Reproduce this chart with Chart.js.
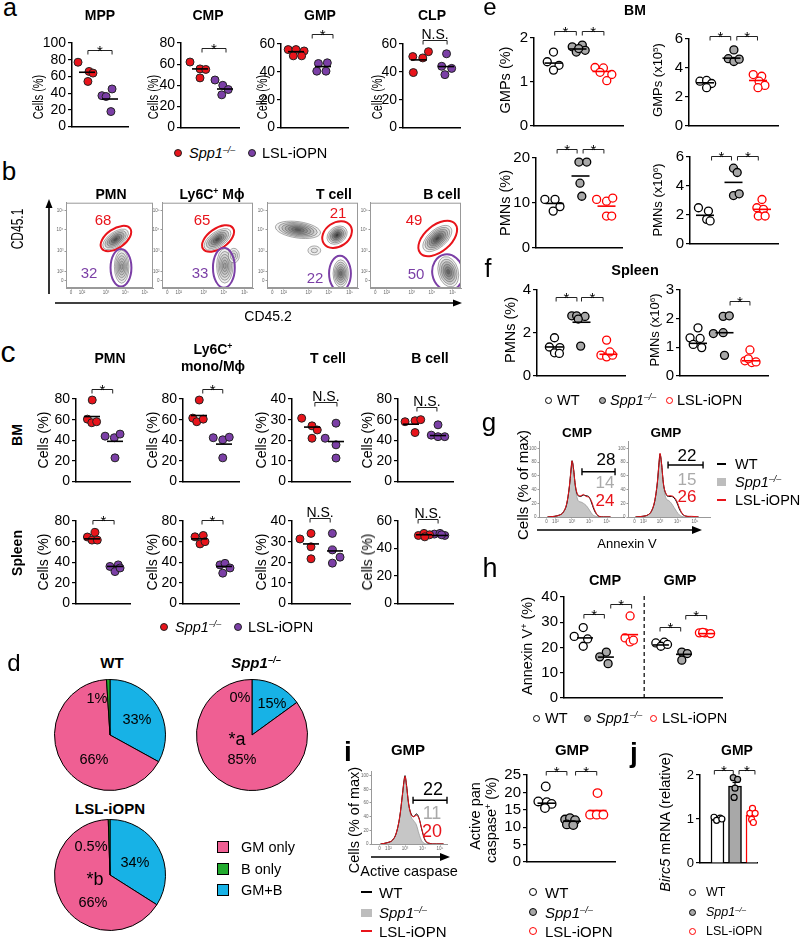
<!DOCTYPE html>
<html>
<head>
<meta charset="utf-8">
<script src="https://cdn.jsdelivr.net/npm/chart.js@4.4.1/dist/chart.umd.min.js"></script>
<style>
html, body { margin: 0; padding: 0; background: #fff; }
#fig { position: relative; width: 800px; height: 938px; overflow: hidden; font-family: 'Liberation Sans', Arial, 'DejaVu Sans', sans-serif; color: #000; }
#fig canvas { position: absolute; }
.t { position: absolute; white-space: nowrap; line-height: 1; }
.m { position: absolute; box-sizing: border-box; }
sup { font-size: .62em; vertical-align: 0; position: relative; top: -.55em; line-height: 0; }
</style>
</head>
<body>
<div id="fig"></div>
<script>
// ---------- data ----------
// panel a: % of donor cells, Spp1-/- (red) vs LSL-iOPN (purple)
const mppSpp = [77, 66, 64, 54], mppLsl = [45, 37, 36, 18], mppMed = [65, 33];
const cmpSpp = [62, 55.5, 55, 47], cmpLsl = [45, 40, 36, 31], cmpMed = [55.5, 36.5];
const gmpSpp = [56, 56, 55, 51.5, 51.5], gmpLsl = [46, 46.5, 40.5, 40.5], gmpMed = [54.5, 43.8];
const clpSpp = [51, 50, 54.5, 39.5], clpLsl = [53, 44, 42.5, 38], clpMed = [48.6, 43.8];

// panel c: BM and spleen
const pmnBmSpp = [79, 60.5, 57, 58], pmnBmLsl = [44, 42.5, 46, 23], pmnBmMed = [63, 39];
const monoBmSpp = [79, 61.5, 58, 60.5], monoBmLsl = [42.5, 40.5, 43, 23], monoBmMed = [64, 36.3];
const tBmSpp = [30.7, 27, 25, 21], tBmLsl = [21, 28.3, 17.8, 11.4], tBmMed = [26.4, 19.4];
const bBmSpp = [58, 59, 60, 47.5], bBmLsl = [55, 45, 43.5, 43.5], bBmMed = [55.6, 44.6];
const pmnSpSpp = [64.5, 69, 61.5, 61.5], pmnSpLsl = [36, 37.5, 31, 34.5], pmnSpMed = [62.7, 36];
const monoSpSpp = [64.7, 66, 57.8, 60], monoSpLsl = [37.5, 39, 29.5, 34.5], monoSpMed = [62.7, 36];
const tSpSpp = [31.3, 34, 27.5, 21.7], tSpLsl = [34, 26, 22.5, 19.6], tSpMed = [28.9, 25.5];
const bSpSpp = [49.5, 51, 50, 48.5], bSpLsl = [50.5, 51, 49.5, 50], bSpMed = [50, 49.5];

// panel d: colony types (%), order WT, Spp1-/-, LSL-iOPN
const pieCats = ['GM+B', 'GM only', 'B only'];
const gmB = [33, 15, 34];
const gmOnly = [66, 85, 65.5];
const bOnly = [1, 0, 0.5];

// panel e (BM) and f (spleen): WT, Spp1-/-, LSL-iOPN
const gmpPctWT = [1.68, 1.46, 1.38, 1.27], gmpPctKO = [1.8, 1.84, 1.68, 1.72, 1.76], gmpPctOE = [1.33, 1.32, 1.22, 1.17, 1.03], gmpPctMed = [1.43, 1.75, 1.24];
const gmpNumWT = [3.09, 3.14, 2.93, 2.64], gmpNumKO = [5.25, 4.64, 4.45, 4.61], gmpNumOE = [3.55, 3.43, 3.09, 2.8, 2.64], gmpNumMed = [2.98, 4.68, 3.14];
const pmnPctWT = [10.8, 10.8, 9.2, 8.2], pmnPctKO = [19.1, 19.1, 14.4, 11.5], pmnPctOE = [10.8, 10.4, 11.1, 7.1, 7.1], pmnPctMed = [9.9, 16, 9.3];
const pmnNumWT = [2.5, 2.27, 1.7, 1.59], pmnNumKO = [5.23, 4.93, 3.34, 3.46], pmnNumOE = [3.07, 2.5, 2.39, 1.93, 1.93], pmnNumMed = [1.98, 4.25, 2.39];
const spPctWT = [1.78, 1.35, 1.32, 1.08, 1.05], spPctKO = [2.8, 2.8, 2.77, 2.65, 1.39], spPctOE = [1.67, 0.97, 0.89, 0.97, 1.12], spPctMed = [1.35, 2.5, 1.01];
const spNumWT = [1.68, 1.33, 1.31, 1.1, 0.99], spNumKO = [1.48, 2.08, 2.1, 1.51, 0.72], spNumOE = [0.91, 0.53, 0.47, 0.49, 0.6], spNumMed = [1.14, 1.51, 0.53];

// panel g / i: histograms, x in log decades, y in % of max
const histX = [1.6, 2.0, 2.3, 2.5, 2.7, 2.85, 2.95, 3.0, 3.08, 3.2, 3.35, 3.5, 3.65, 3.8, 3.95, 4.1, 4.25, 4.4, 4.55, 4.8, 5.2];
const cmpHistKO = [0, 1, 3, 7, 20, 45, 72, 83, 72, 42, 24, 22, 20, 17, 12, 6, 2, 1, 0, 0, 0];
const cmpHistWT = [0, 1, 3, 7, 19, 44, 70, 82, 72, 44, 31, 30, 32, 31, 30, 22, 11, 4, 1, 0, 0];
const cmpHistOE = [0, 1, 3, 7, 20, 45, 71, 82, 71, 45, 32, 31, 33, 30, 29, 24, 13, 5, 1, 0, 0];
const gmpHistKO = [0, 1, 3, 8, 24, 52, 82, 93, 80, 46, 27, 24, 20, 14, 8, 3, 1, 0, 0, 0, 0];
const gmpHistWT = [0, 1, 3, 8, 23, 50, 80, 92, 80, 48, 33, 30, 30, 28, 22, 12, 5, 2, 1, 0, 0];
const gmpHistOE = [0, 1, 3, 8, 24, 51, 81, 93, 80, 48, 34, 31, 31, 29, 24, 14, 6, 2, 1, 1, 0];
const caspHistKO = [0, 2, 6, 15, 38, 68, 90, 95, 85, 58, 40, 34, 28, 15, 5, 1, 0, 0, 0, 0, 0];
const caspHistWT = [0, 2, 6, 16, 40, 72, 94, 100, 88, 60, 44, 40, 44, 38, 22, 8, 2, 1, 0, 0, 0];
const caspHistOE = [0, 2, 6, 16, 40, 71, 93, 99, 87, 60, 43, 40, 42, 37, 23, 9, 3, 1, 0, 0, 0];
const decTicks = [1.55, 2.05, 3, 4, 5];
const decLabels = ['0', '10²', '10³', '10⁴', '10⁵'];
const cmpGate = [3.57, 5.46, 66], gmpGate = [3.46, 5.46, 76], caspGate = [3.46, 5.4, 64];

// panel h: Annexin V+ (%)
const anxCmpWT = [24.4, 27.9, 20.5, 23.4], anxCmpKO = [18.2, 16.3, 13.6], anxCmpOE = [32.5, 23.8, 22.2, 22.9];
const anxGmpWT = [21.8, 22.1, 20.5, 21.2], anxGmpKO = [18.2, 17.6, 15], anxGmpOE = [25.8, 25.8, 25.5, 26];
const anxMed = [23.8, 16.2, 25.1, 21, 17.3, 25.5];

// panel i: active pan caspase+ (%)
const caspWT = [21.7, 17.4, 17.2, 16.7, 15.5], caspKO = [12.2, 12.6, 12.0, 10.8, 10.6], caspOE = [19.8, 13.6, 13.6, 13.6];
const caspMed = [16.9, 11.7, 14.8];

// panel j: Birc5 mRNA (relative)
const birc5Mean = [1.0, 1.75, 1.09], birc5Sem = [0.02, 0.08, 0.05];
const birc5WT = [1.04, 1.02, 0.97, 1.0], birc5KO = [1.94, 1.9, 1.7, 1.49], birc5OE = [1.24, 1.13, 1.13, 0.99, 0.92];

// flow plot tick positions (panel b), axes in decades 0..5
const flowYT = [0.45, 0.97, 2.16, 3.41, 4.55], flowXT = [0.29, 0.92, 2.3, 3.4, 4.54];

// ---------- helpers ----------
const fig = document.getElementById('fig');
const RED = '#E8141B', PUR = '#7B3FA6', GRAY = '#A8A8A8';
const PINK = '#EF5F93', BLUE = '#17B2E6', GREEN = '#22AA2E';
const STY = {
  spp: { fill: RED, stroke: '#222', line: '#000' },
  lsl: { fill: PUR, stroke: '#222', line: '#000' },
  wt: { fill: '#fff', stroke: '#000', line: '#000', bar: '#fff' },
  ko: { fill: GRAY, stroke: '#000', line: '#000', bar: GRAY },
  oe: { fill: '#fff', stroke: '#F00', line: '#F00', bar: '#fff' }
};

function base() {
  return { responsive: false, animation: false, events: [], plugins: { legend: { display: false }, tooltip: { enabled: false } } };
}

function mk(x, y, w, h) {
  const c = document.createElement('canvas');
  c.width = w; c.height = h;
  c.style.left = x + 'px'; c.style.top = y + 'px';
  c.style.width = w + 'px'; c.style.height = h + 'px';
  fig.appendChild(c);
  return c;
}

function txt(x, y, html, o = {}) {
  const d = document.createElement('div');
  d.className = 't';
  d.innerHTML = html;
  let tf = o.left ? 'translate(0,-50%)' : 'translate(-50%,-50%)';
  if (o.rot) tf += ' rotate(-90deg)';
  if (o.sx) tf += ' scaleX(' + o.sx + ')';
  d.style.left = x + 'px'; d.style.top = y + 'px';
  d.style.fontSize = (o.fs || 14) + 'px';
  if (o.b) d.style.fontWeight = 'bold';
  if (o.i) d.style.fontStyle = 'italic';
  if (o.c) d.style.color = o.c;
  d.style.transform = tf;
  fig.appendChild(d);
}

function mark(x, y, w, h, fill, stroke, bw, round) {
  const d = document.createElement('div');
  d.className = 'm';
  d.style.cssText = `left:${x - w / 2}px;top:${y - h / 2}px;width:${w}px;height:${h}px;background:${fill};` +
    (stroke ? `border:${bw}px solid ${stroke};` : '') + (round ? 'border-radius:50%;' : '');
  fig.appendChild(d);
}

// significance brackets drawn on top of the plot
const brkPlugin = {
  id: 'brk',
  afterDatasetsDraw(chart, args, opts) {
    const { ctx, scales: { x, y } } = chart;
    ctx.save();
    ctx.strokeStyle = '#222';
    ctx.lineWidth = 1;
    ctx.fillStyle = '#000';
    ctx.textAlign = 'center';
    (opts.items || []).forEach(([a, b, v, t]) => {
      const x1 = x.getPixelForValue(a), x2 = x.getPixelForValue(b), yy = Math.round(y.getPixelForValue(v)) + 0.5;
      ctx.beginPath();
      ctx.moveTo(x1, yy + 4); ctx.lineTo(x1, yy); ctx.lineTo(x2, yy); ctx.lineTo(x2, yy + 4);
      ctx.stroke();
      ctx.textBaseline = 'alphabetic';
      if (t) {
        ctx.font = (opts.ns || 14) + "px 'Liberation Sans', Arial";
        ctx.fillText(t, (x1 + x2) / 2, yy - 2);
      } else {
        ctx.font = (opts.fs || 15) + "px 'Liberation Sans', Arial";
        ctx.fillText('*', (x1 + x2) / 2, yy + 5);
      }
    });
    ctx.restore();
  }
};

function dotPlot(L, P) {
  const padL = 42, padT = 34, padR = 8, padB = 10;
  const left = L.ax - padL, top = L.top - padT;
  const cv = mk(left, top, L.xEnd - left + padR, L.y0 - top + padB);
  const pos = P.pos || P.groups.map((g, i) => i + 1);
  const xmin = pos[0] - (L.c1 - L.ax) / L.ppu;
  const xmax = xmin + (L.xEnd - L.ax) / L.ppu;
  const half = (P.half || 8) / L.ppu;
  const ds = [];
  P.groups.forEach((g, i) => {
    const [vals, jit, mid, key] = g;
    const s = STY[key];
    if (P.bars) {
      const m = P.bars[i], e = P.err[i], cap = 0.14;
      ds.push({ type: 'bar', data: [{ x: pos[i], y: m }], backgroundColor: s.bar, borderColor: s.line, borderWidth: 1.5, barThickness: 13, grouped: false, order: 3 });
      ds.push({ data: [{ x: pos[i], y: m }, { x: pos[i], y: m + e }], showLine: true, pointRadius: 0, borderColor: s.line, borderWidth: 1.2, order: 2 });
      ds.push({ data: [{ x: pos[i] - cap, y: m + e }, { x: pos[i] + cap, y: m + e }], showLine: true, pointRadius: 0, borderColor: s.line, borderWidth: 1.2, order: 2 });
    }
    if (mid != null) {
      ds.push({ data: [{ x: pos[i] - half, y: mid }, { x: pos[i] + half, y: mid }], showLine: true, pointRadius: 0, borderColor: s.line, borderWidth: 1.6, clip: false, order: 0 });
    }
    ds.push({ data: vals.map((v, k) => ({ x: pos[i] + jit[k], y: v })), pointRadius: P.r || 4, pointBackgroundColor: s.fill, pointBorderColor: s.stroke, pointBorderWidth: P.bw || 1, clip: false, order: 1 });
  });
  (P.extra || []).forEach(d => ds.push(d));
  const o = base();
  o.layout = { padding: { left: 0, top: padT, right: padR, bottom: 0 } };
  o.scales = {
    x: { type: 'linear', min: xmin, max: xmax, offset: false, grid: { display: false, offset: false }, ticks: { display: false },
      border: { display: true, color: '#000', width: 1.5 }, afterFit: s => { s.height = padB; } },
    y: { type: 'linear', min: 0, max: P.max,
      ticks: { stepSize: P.step, autoSkip: false, font: { size: P.fs || 14 }, color: '#000', padding: 2 },
      grid: { drawOnChartArea: false, drawTicks: true, tickLength: 4, color: '#000', lineWidth: 1.2 },
      border: { display: true, color: '#000', width: 1.5 }, afterFit: s => { s.width = padL; } }
  };
  o.plugins.brk = { items: P.brk || [], fs: P.sfs || 15, ns: P.nfs || 14 };
  new Chart(cv, { type: 'scatter', data: { datasets: ds }, options: o, plugins: [brkPlugin] });
}

// contour populations and gates for the flow plots
const flowPlugin = {
  id: 'flow',
  beforeDatasetsDraw(chart, args, o) {
    const { ctx, chartArea: ca, scales: { x, y } } = chart;
    const k = x.getPixelForValue(1) - x.getPixelForValue(0);
    ctx.save();
    ctx.beginPath(); ctx.rect(ca.left, ca.top, ca.width, ca.height); ctx.clip();
    (o.pops || []).forEach(([cx, cy, rx, ry, a, n, dark]) => {
      for (let i = 0; i < n; i++) {
        const f = 1 - i / n;
        const g = Math.round(238 - (238 - dark) * i / Math.max(n - 1, 1));
        ctx.beginPath();
        ctx.ellipse(x.getPixelForValue(cx), y.getPixelForValue(cy), rx * k * f, ry * k * f, -a * Math.PI / 180, 0, 2 * Math.PI);
        ctx.fillStyle = `rgb(${g},${g},${g})`;
        ctx.fill();
        ctx.strokeStyle = '#5a5a5a'; ctx.lineWidth = 0.5; ctx.stroke();
      }
    });
    (o.gates || []).forEach(([cx, cy, rx, ry, a, col]) => {
      ctx.beginPath();
      ctx.ellipse(x.getPixelForValue(cx), y.getPixelForValue(cy), rx * k, ry * k, -a * Math.PI / 180, 0, 2 * Math.PI);
      ctx.strokeStyle = col; ctx.lineWidth = 2; ctx.stroke();
    });
    ctx.restore();
    ctx.save();
    ctx.strokeStyle = '#999'; ctx.lineWidth = 1;
    ctx.strokeRect(ca.left + 0.5, ca.top + 0.5, ca.width - 1, ca.height - 1);
    ctx.restore();
  }
};

function tinyAxis(min, max, vals, labels, after) {
  return { type: 'linear', min, max,
    afterBuildTicks: s => { s.ticks = vals.map(v => ({ value: v })); },
    ticks: { autoSkip: false, maxRotation: 0, callback: (v, i) => labels[i], font: { size: 4.5 }, color: '#666', padding: 1 },
    grid: { drawOnChartArea: false, tickLength: 1.5, color: '#999' },
    border: { display: true, color: '#999', width: 1 }, afterFit: after };
}

function flow(B, F) {
  const padL = 13, padB = 10;
  const cv = mk(B.l - padL, B.t - 1, B.r - B.l + padL + 2, B.b - B.t + 1 + padB);
  const o = base();
  o.layout = { padding: { left: 0, top: 1, right: 2, bottom: 0 } };
  o.scales = {
    x: tinyAxis(0, 5, flowXT, decLabels, s => { s.height = padB; }),
    y: tinyAxis(0, 5, flowYT, decLabels, s => { s.width = padL; })
  };
  o.plugins.flow = F;
  new Chart(cv, { type: 'scatter', data: { datasets: [] }, options: o, plugins: [flowPlugin] });
}

// gate marker on histograms
const gatePlugin = {
  id: 'gate',
  afterDatasetsDraw(chart, args, o) {
    if (!o.g) return;
    const { ctx, scales: { x, y } } = chart;
    const [a, b, v] = o.g;
    const x1 = x.getPixelForValue(a), x2 = x.getPixelForValue(b), yy = y.getPixelForValue(v);
    ctx.save();
    ctx.strokeStyle = '#000'; ctx.lineWidth = 1.4;
    ctx.beginPath();
    ctx.moveTo(x1, yy); ctx.lineTo(x2, yy);
    ctx.moveTo(x1, yy - 3.5); ctx.lineTo(x1, yy + 3.5);
    ctx.moveTo(x2, yy - 3.5); ctx.lineTo(x2, yy + 3.5);
    ctx.stroke();
    ctx.restore();
  }
};

function histo(L, series, gate) {
  const padL = 10, padB = 9, padT = 2, padR = 4;
  const cv = mk(L.l - padL, L.t - padT, L.r - L.l + padL + padR, L.b - L.t + padT + padB);
  const xmin = 3 - (L.x3 - L.l) / 17.5, xmax = xmin + (L.r - L.l) / 17.5;
  const ds = series.map(([ys, col, fill], k) => ({
    data: histX.map((x, i) => ({ x, y: ys[i] })), showLine: true, pointRadius: 0,
    borderColor: col, borderWidth: fill ? 0.8 : 1, backgroundColor: fill || 'transparent',
    fill: fill ? 'origin' : false, cubicInterpolationMode: 'monotone', order: 5 - k }));
  const o = base();
  o.layout = { padding: { left: 0, top: padT, right: padR, bottom: 0 } };
  o.scales = {
    x: tinyAxis(xmin, xmax, decTicks, decLabels, s => { s.height = padB; }),
    y: tinyAxis(0, L.ymax, [0, 20, 40, 60, 80, 100], ['0', '20', '40', '60', '80', '100'], s => { s.width = padL; })
  };
  o.plugins.gate = { g: gate };
  new Chart(cv, { type: 'scatter', data: { datasets: ds }, options: o, plugins: [gatePlugin] });
}

function pie(cx, cy, r, k) {
  const cv = mk(cx - r - 1, cy - r - 1, 2 * r + 2, 2 * r + 2);
  const o = base();
  o.layout = { padding: 0 };
  new Chart(cv, { type: 'pie', data: { labels: pieCats, datasets: [{ data: [gmB[k], gmOnly[k], bOnly[k]], backgroundColor: [BLUE, PINK, GREEN], borderColor: '#000', borderWidth: 1 }] }, options: o });
}

// ---------- panel a ----------
const spp = '<i>Spp1<sup>–/–</sup></i>';
[
  [{ ax: 72, top: 43, y0: 127, xEnd: 128, c1: 87, ppu: 23 }, 100, mppSpp, [-0.39, 0.09, 0.26, 0.04], mppLsl, [0.09, -0.35, -0.17, 0.04], mppMed, [1.04, 2.09, 92]],
  [{ ax: 181, top: 43, y0: 128, xEnd: 239, c1: 200, ppu: 25 }, 80, cmpSpp, [-0.4, 0, 0.23, 0], cmpLsl, [-0.4, -0.09, 0.13, -0.13], cmpMed, [1.08, 2.04, 75.5]],
  [{ ax: 281, top: 44, y0: 128, xEnd: 348, c1: 296, ppu: 27 }, 60, gmpSpp, [-0.29, 0, 0.3, -0.1, 0.21], gmpLsl, [-0.17, 0.16, -0.23, 0.11], gmpMed, [1.6, 2.37, 67]],
  [{ ax: 403, top: 44, y0: 128, xEnd: 460, c1: 419, ppu: 27 }, 60, clpSpp, [-0.23, 0.14, 0.35, -0.21], clpLsl, [0.02, -0.16, 0.21, -0.04], clpMed, [1.15, 2.04, 63, 'N.S.']]
].forEach(([L, max, s, sj, l, lj, med, b]) => {
  dotPlot(L, { max, step: 20, groups: [[s, sj, med[0], 'spp'], [l, lj, med[1], 'lsl']], brk: [b], half: 8 });
});
txt(10, 7, 'a', { fs: 25 });
txt(100, 15, 'MPP', { fs: 14, b: 1 });
txt(208, 15, 'CMP', { fs: 14, b: 1 });
txt(320, 15, 'GMP', { fs: 14, b: 1 });
txt(432, 15, 'CLP', { fs: 14, b: 1 });
[38, 153, 262, 377].forEach(x => txt(x, 97, 'Cells (%)', { fs: 14, rot: 1, sx: 0.78 }));
mark(178, 153, 8, 8, RED, '#222', 0.8, 1); txt(189, 153, spp, { fs: 14.5, left: 1 });
mark(252, 153, 8, 8, PUR, '#222', 0.8, 1); txt(262, 153, 'LSL-iOPN', { fs: 14.5, left: 1 });

// ---------- panel b ----------
flow({ l: 66, r: 153, t: 200, b: 288 }, {
  pops: [[2.85, 2.85, 0.85, 0.42, 35, 6, 80], [3.2, 1.25, 0.42, 0.95, 0, 6, 160]],
  gates: [[2.87, 2.9, 1.0, 0.55, 35, RED], [3.16, 1.19, 0.6, 1.08, 0, PUR]] });
flow({ l: 162, r: 253, t: 200, b: 288 }, {
  pops: [[3.05, 2.85, 0.85, 0.42, 35, 6, 80], [3.45, 1.3, 0.45, 0.95, 0, 6, 160], [3.95, 1.9, 0.3, 0.4, 0, 3, 205]],
  gates: [[3.08, 2.9, 1.0, 0.55, 35, RED], [3.4, 1.19, 0.6, 1.1, 0, PUR]] });
flow({ l: 267, r: 358, t: 200, b: 288 }, {
  pops: [[1.7, 3.41, 1.25, 0.45, -8, 7, 90], [2.6, 2.2, 0.35, 0.25, 0, 2, 225], [3.85, 3.1, 0.6, 0.45, 35, 6, 60], [4.05, 0.85, 0.42, 0.75, 0, 6, 110]],
  gates: [[3.85, 3.13, 0.88, 0.66, 35, RED], [4.01, 0.85, 0.6, 0.97, 0, PUR]] });
flow({ l: 370, r: 461, t: 200, b: 288 }, {
  pops: [[3.7, 2.9, 0.95, 0.5, 40, 7, 70], [4.3, 0.95, 0.55, 0.85, 15, 6, 100]],
  gates: [[3.72, 2.9, 1.25, 0.72, 40, RED], [4.27, 0.91, 0.85, 1.0, 10, PUR]] });
txt(9, 171, 'b', { fs: 26 });
txt(111, 194, 'PMN', { fs: 14, b: 1 });
txt(212, 194, 'Ly6C<sup>+</sup> Mϕ', { fs: 14, b: 1 });
txt(334, 194, 'T cell', { fs: 14, b: 1 });
txt(442, 194, 'B cell', { fs: 14, b: 1 });
[[103, 219, '68', RED], [89, 272, '32', PUR], [202, 219, '65', RED], [200, 272, '33', PUR],
 [338, 212, '21', RED], [315, 277, '22', PUR], [414, 219, '49', RED], [416, 273, '50', PUR]]
  .forEach(([x, y, s, c]) => txt(x, y, s, { fs: 15, c }));
txt(18, 229, 'CD45.1', { fs: 16, rot: 1, sx: 0.75 });
txt(268, 316, 'CD45.2', { fs: 14 });

// ---------- panel c ----------
const cRows = [
  [399, 482, [[pmnBmSpp, [0.01, -0.2, -0.01, 0.2], pmnBmLsl, [-0.43, -0.03, 0.22, 0], pmnBmMed, 80, 20, 92, 23, [1, 1.9, 90]],
              [monoBmSpp, [0.01, -0.25, -0.09, 0.17], monoBmLsl, [-0.43, -0.05, 0.21, -0.05], monoBmMed, 80, 20, 199, 25, [1.15, 1.95, 90]],
              [tBmSpp, [-0.43, 0, 0.22, 0], tBmLsl, [-0.45, 0, 0, 0], tBmMed, 40, 10, 312, 24, [1.12, 2.04, 38.7, 'N.S.']],
              [bBmSpp, [-0.22, 0.15, 0.36, 0.15], bBmLsl, [0, -0.25, 0, 0.25], bBmMed, 80, 20, 411, 27, [1.22, 1.96, 72, 'N.S.']]]],
  [521, 604, [[pmnSpSpp, [-0.2, 0.13, 0, 0.23], pmnSpLsl, [-0.22, 0.14, 0, 0.22], pmnSpMed, 80, 20, 92, 23, [1.04, 1.96, 81]],
              [monoSpSpp, [-0.16, 0.17, 0.04, 0.24], monoSpLsl, [-0.16, 0.04, -0.05, 0.24], monoSpMed, 80, 20, 199, 25, [1.12, 1.96, 81]],
              [tSpSpp, [-0.46, 0, 0, 0], tSpLsl, [-0.11, -0.11, 0.21, -0.11], tSpMed, 40, 10, 311, 24, [0.96, 1.8, 41.3, 'N.S.']],
              [bSpSpp, [-0.35, 0, 0.35, 0.05], bSpLsl, [-0.35, 0, 0.3, 0.1], bSpMed, 60, 20, 424, 16, [0.63, 1.88, 61.2, 'N.S.']]]]
];
const cAxes = [[76, 130], [183, 239], [292, 350], [398, 453]];
cRows.forEach(([top, y0, cells]) => {
  cells.forEach(([s, sj, l, lj, med, max, step, c1, ppu, b], i) => {
    dotPlot({ ax: cAxes[i][0], top, y0, xEnd: cAxes[i][1], c1, ppu }, { max, step, groups: [[s, sj, med[0], 'spp'], [l, lj, med[1], 'lsl']], brk: [b], half: 8 });
  });
});
txt(8, 352, 'c', { fs: 30 });
txt(110, 358, 'PMN', { fs: 14, b: 1 });
txt(213, 349, 'Ly6C<sup>+</sup>', { fs: 14, b: 1 });
txt(213, 366, 'mono/Mϕ', { fs: 14, b: 1 });
txt(328, 358, 'T cell', { fs: 14, b: 1 });
txt(430, 358, 'B cell', { fs: 14, b: 1 });
txt(17, 435, 'BM', { fs: 14, b: 1, rot: 1 });
txt(17, 553, 'Spleen', { fs: 14, b: 1, rot: 1 });
[43, 152, 261, 367].forEach(x => { txt(x, 440, 'Cells (%)', { fs: 14, rot: 1 }); txt(x, 562, 'Cells (%)', { fs: 14, rot: 1 }); });
mark(164, 627, 8, 8, RED, '#222', 0.8, 1); txt(175, 627, spp, { fs: 14.5, left: 1 });
mark(238, 627, 8, 8, PUR, '#222', 0.8, 1); txt(248, 627, 'LSL-iOPN', { fs: 14.5, left: 1 });

// ---------- panel d ----------
pie(110, 735, 55, 0);
pie(252, 735, 55, 1);
pie(110, 875, 55, 2);
txt(14, 663, 'd', { fs: 24 });
txt(112, 662, 'WT', { fs: 15, b: 1 });
txt(256, 662, '<i>Spp1<sup>–/–</sup></i>', { fs: 15, b: 1 });
txt(110, 808, 'LSL-iOPN', { fs: 15, b: 1 });
[[97, 698, '1%'], [137, 719, '33%'], [94, 759, '66%'], [240, 697, '0%'], [272, 703, '15%'], [242, 759, '85%'],
 [91, 846, '0.5%'], [135, 862, '34%'], [93, 902, '66%']].forEach(([x, y, s]) => txt(x, y, s, { fs: 14.5 }));
txt(237, 739, '*a', { fs: 18 });
txt(95, 879, '*b', { fs: 18 });
[[846.5, PINK, 'GM only'], [868.5, GREEN, 'B only'], [890, BLUE, 'GM+B']].forEach(([y, c, s]) => {
  mark(222.5, y, 12, 12, c, '#000', 1, 0); txt(241, y, s, { fs: 14.5, left: 1 });
});

// ---------- panel e / f ----------
dotPlot({ ax: 534, top: 38, y0: 127, xEnd: 623, c1: 553.5, ppu: 24 }, { max: 2, step: 1, fs: 15, r: 4, bw: 1.3, half: 9,
  groups: [[gmpPctWT, [0, -0.26, 0.23, 0], gmpPctMed[0], 'wt'], [gmpPctKO, [-0.22, 0.2, -0.05, 0.32, 0.05], gmpPctMed[1], 'ko'], [gmpPctOE, [-0.27, 0.08, -0.06, 0.43, 0.22], gmpPctMed[2], 'oe']],
  brk: [[1.05, 1.95, 2.16], [2.2, 3.1, 2.16]] });
dotPlot({ ax: 689, top: 39, y0: 127, xEnd: 778, c1: 705, ppu: 26.5 }, { max: 6, step: 2, fs: 15, r: 4, bw: 1.3, half: 9,
  groups: [[gmpNumWT, [-0.19, 0.06, 0.25, 0.06], gmpNumMed[0], 'wt'], [gmpNumKO, [0.09, -0.12, 0.09, 0.29], gmpNumMed[1], 'ko'], [gmpNumOE, [-0.18, 0.14, 0.04, 0.26, 0], gmpNumMed[2], 'oe']],
  brk: [[1.19, 1.97, 6.22], [2.2, 2.98, 6.22]] });
dotPlot({ ax: 536, top: 158, y0: 249, xEnd: 622, c1: 554.5, ppu: 26 }, { max: 20, step: 10, fs: 15, r: 4, bw: 1.3, half: 9,
  groups: [[pmnPctWT, [-0.37, 0.02, 0.21, -0.05], pmnPctMed[0], 'wt'], [pmnPctKO, [-0.06, 0.24, -0.02, 0.05], pmnPctMed[1], 'ko'], [pmnPctOE, [-0.38, 0, 0.24, 0, 0.2], pmnPctMed[2], 'oe']],
  brk: [[1.1, 1.87, 21.9], [2.1, 2.9, 21.9]] });
dotPlot({ ax: 690, top: 157, y0: 245, xEnd: 778, c1: 705, ppu: 28.5 }, { max: 6, step: 2, fs: 15, r: 4, bw: 1.3, half: 9,
  groups: [[pmnNumWT, [-0.23, 0.12, 0.06, 0.18], pmnNumMed[0], 'wt'], [pmnNumKO, [0, 0.13, 0, 0.2], pmnNumMed[1], 'ko'], [pmnNumOE, [0, -0.18, 0.05, -0.13, 0.11], pmnNumMed[2], 'oe']],
  brk: [[1.23, 1.93, 6.07], [2.14, 2.87, 6.07]] });
dotPlot({ ax: 537, top: 290, y0: 377, xEnd: 625, c1: 554.5, ppu: 27 }, { max: 4, step: 2, fs: 15, r: 4, bw: 1.3, half: 9,
  groups: [[spPctWT, [0, -0.19, 0.2, 0, 0.18], spPctMed[0], 'wt'], [spPctKO, [-0.36, -0.18, 0.13, -0.12, -0.03], spPctMed[1], 'ko'], [spPctOE, [-0.07, -0.28, -0.07, 0.15, 0.05], spPctMed[2], 'oe']],
  brk: [[1.06, 1.83, 3.66], [2.0, 2.8, 3.66]] });
dotPlot({ ax: 680, top: 290, y0: 377, xEnd: 768, c1: 698, ppu: 26.5 }, { max: 3, step: 1, fs: 15, r: 4, bw: 1.3, half: 9,
  groups: [[spNumWT, [0, -0.3, 0.08, -0.18, 0.14], spNumMed[0], 'wt'], [spNumKO, [-0.42, -0.05, 0.18, -0.05, 0], spNumMed[1], 'ko'], [spNumOE, [-0.04, -0.23, 0.03, 0.19, -0.1], spNumMed[2], 'oe']],
  brk: [[2.21, 2.96, 2.6]] });
txt(490, 7, 'e', { fs: 24 });
txt(635, 10, 'BM', { fs: 14, b: 1 });
txt(505, 80, 'GMPs (%)', { fs: 14.5, rot: 1 });
txt(657, 80, 'GMPs (x10<sup>5</sup>)', { fs: 13, rot: 1 });
txt(505, 203, 'PMNs (%)', { fs: 14.5, rot: 1 });
txt(657, 200, 'PMNs (x10<sup>6</sup>)', { fs: 13, rot: 1 });
txt(488, 268, 'f', { fs: 25 });
txt(635, 270, 'Spleen', { fs: 14.5, b: 1 });
txt(510, 330, 'PMNs (%)', { fs: 14.5, rot: 1 });
txt(654, 330, 'PMNs (x10<sup>6</sup>)', { fs: 13, rot: 1 });
mark(548, 400, 7, 7, '#fff', '#000', 1.2, 1); txt(557, 400, 'WT', { fs: 14.5, left: 1 });
mark(602, 400, 7, 7, GRAY, '#000', 1.2, 1); txt(610, 400, spp, { fs: 14.5, left: 1 });
mark(669, 400, 7, 7, '#fff', '#F00', 1.2, 1); txt(677, 400, 'LSL-iOPN', { fs: 14.5, left: 1 });

// ---------- panel g ----------
histo({ l: 539, r: 624, t: 440, b: 517, x3: 572, ymax: 110 }, [[cmpHistKO, '#9a9a9a', '#c6c6c6'], [cmpHistWT, '#000'], [cmpHistOE, RED]], cmpGate);
histo({ l: 628, r: 710, t: 440, b: 517, x3: 660, ymax: 110 }, [[gmpHistKO, '#9a9a9a', '#c6c6c6'], [gmpHistWT, '#000'], [gmpHistOE, RED]], gmpGate);
txt(489, 422, 'g', { fs: 26 });
txt(577, 433, 'CMP', { fs: 13.5, b: 1 });
txt(666, 433, 'GMP', { fs: 13.5, b: 1 });
txt(522, 485, 'Cells (% of max)', { fs: 15, rot: 1 });
txt(606, 459, '28', { fs: 17 }); txt(605, 482, '14', { fs: 17, c: '#aaa' }); txt(605, 500, '24', { fs: 17, c: RED });
txt(687, 455, '22', { fs: 17 }); txt(687, 479, '15', { fs: 17, c: '#aaa' }); txt(687, 496, '26', { fs: 17, c: RED });
txt(627, 543, 'Annexin V', { fs: 13 });
mark(721, 464, 9, 1.5, '#000'); txt(735, 464, 'WT', { fs: 14.5, left: 1 });
mark(721, 482, 9, 8, '#bdbdbd'); txt(735, 482, spp, { fs: 14.5, left: 1 });
mark(721, 500, 9, 1.5, RED); txt(735, 500, 'LSL-iOPN', { fs: 14.5, left: 1 });

// ---------- panel h ----------
dotPlot({ ax: 564, top: 597, y0: 699, xEnd: 722, c1: 585, ppu: 22 }, { max: 40, step: 10, fs: 15, r: 4, bw: 1.3, half: 8,
  pos: [1, 1.95, 3.05, 4.45, 5.5, 6.5],
  groups: [[anxCmpWT, [-0.49, -0.08, -0.08, 0.12], anxMed[0], 'wt'], [anxCmpKO, [0.02, -0.28, 0.1], anxMed[1], 'ko'], [anxCmpOE, [0, -0.23, 0, 0.15], anxMed[2], 'oe'],
           [anxGmpWT, [-0.23, 0.15, 0, 0.3], anxMed[3], 'wt'], [anxGmpKO, [-0.1, 0.15, -0.1], anxMed[4], 'ko'], [anxGmpOE, [-0.3, -0.05, 0.21, -0.15], anxMed[5], 'oe']],
  brk: [[0.95, 1.88, 33.3], [2.17, 3.12, 37.3], [4.41, 5.35, 28], [5.58, 6.53, 32.9]],
  extra: [{ data: [{ x: 3.69, y: 0 }, { x: 3.69, y: 41 }], showLine: true, pointRadius: 0, borderColor: '#000', borderWidth: 1.2, borderDash: [4, 3], clip: false, order: 4 }] });
txt(490, 568, 'h', { fs: 27 });
txt(605, 580, 'CMP', { fs: 14.5, b: 1 });
txt(680, 580, 'GMP', { fs: 14.5, b: 1 });
txt(527, 646, 'Annexin V<sup>+</sup> (%)', { fs: 14.5, rot: 1 });
mark(536, 718, 7, 7, '#fff', '#000', 1.2, 1); txt(545, 718, 'WT', { fs: 14.5, left: 1 });
mark(587, 718, 7, 7, GRAY, '#000', 1.2, 1); txt(596, 718, spp, { fs: 14.5, left: 1 });
mark(653, 718, 7, 7, '#fff', '#F00', 1.2, 1); txt(662, 718, 'LSL-iOPN', { fs: 14.5, left: 1 });

// ---------- panel i ----------
histo({ l: 371, r: 447, t: 770, b: 844, x3: 405, ymax: 105.7 }, [[caspHistKO, '#9a9a9a', '#c6c6c6'], [caspHistWT, '#000'], [caspHistOE, RED]], caspGate);
dotPlot({ ax: 527, top: 775, y0: 863, xEnd: 615, c1: 546.5, ppu: 25.5 }, { max: 25, step: 5, fs: 15, r: 4.3, bw: 1.3, half: 9,
  groups: [[caspWT, [-0.03, -0.32, 0.01, 0.2, -0.06], caspMed[0], 'wt'], [caspKO, [-0.27, -0.08, 0.12, -0.2, 0.05], caspMed[1], 'ko'], [caspOE, [0, -0.29, -0.03, 0.23], caspMed[2], 'oe']],
  brk: [[0.99, 1.8, 26.1], [2.14, 2.97, 26.1]] });
txt(348, 752, 'i', { fs: 28, b: 1 });
txt(408, 749, 'GMP', { fs: 15, b: 1 });
txt(354, 820, 'Cells (% of max)', { fs: 14.5, rot: 1 });
txt(433, 789, '22', { fs: 18 }); txt(432, 813, '11', { fs: 18, c: '#aaa' }); txt(432, 831, '20', { fs: 18, c: RED });
txt(409, 871, 'Active caspase', { fs: 14.5 });
mark(366, 892, 11, 1.5, '#000'); txt(379, 892, 'WT', { fs: 15, left: 1 });
mark(366, 913, 11, 8, '#bdbdbd'); txt(379, 912, spp, { fs: 15, left: 1 });
mark(366, 931, 11, 1.5, RED); txt(379, 931, 'LSL-iOPN', { fs: 15, left: 1 });
txt(572, 749, 'GMP', { fs: 15, b: 1 });
txt(475, 816, 'Active pan', { fs: 14.5, rot: 1 });
txt(491, 820, 'caspase<sup>+</sup> (%)', { fs: 14.5, rot: 1 });
mark(533, 892, 8, 8, '#fff', '#000', 1.3, 1); txt(545, 892, 'WT', { fs: 15, left: 1 });
mark(533, 912, 8, 8, GRAY, '#000', 1.3, 1); txt(545, 912, spp, { fs: 15, left: 1 });
mark(533, 931, 8, 8, '#fff', '#F00', 1.3, 1); txt(545, 931, 'LSL-iOPN', { fs: 15, left: 1 });

// ---------- panel j ----------
dotPlot({ ax: 700, top: 775, y0: 863, xEnd: 757, c1: 717.5, ppu: 17.5 }, { max: 2, step: 1, fs: 13, r: 3, bw: 1.2,
  bars: birc5Mean, err: birc5Sem,
  groups: [[birc5WT, [-0.2, 0.15, -0.05, 0.25], null, 'wt'], [birc5KO, [-0.1, 0.15, 0, -0.05], null, 'ko'], [birc5OE, [0, -0.15, 0.15, -0.05, 0.05], null, 'oe']],
  brk: [[0.82, 1.9, 2.11], [2.23, 3.14, 2.11]] });
txt(634, 753, 'j', { fs: 28, b: 1 });
txt(737, 750, 'GMP', { fs: 14, b: 1 });
txt(665, 822, '<i>Birc5</i> mRNA (relative)', { fs: 14.5, rot: 1 });
mark(692, 892, 7, 7, '#fff', '#000', 1.2, 1); txt(706, 892, 'WT', { fs: 12.5, left: 1 });
mark(692, 912, 7, 7, GRAY, '#000', 1.2, 1); txt(706, 912, spp, { fs: 12.5, left: 1 });
mark(692, 931, 7, 7, '#fff', '#F00', 1.2, 1); txt(706, 931, 'LSL-iOPN', { fs: 12.5, left: 1 });

// ---------- axis arrows ----------
const svgNS = 'http://www.w3.org/2000/svg';
const svg = document.createElementNS(svgNS, 'svg');
svg.setAttribute('width', 800); svg.setAttribute('height', 938);
svg.style.cssText = 'position:absolute;left:0;top:0;pointer-events:none';
[[49, 294, 49, 206, '49,199 45.5,208 52.5,208'],
 [55, 303, 455, 303, '462,303 453,299.5 453,306.5'],
 [537, 530, 694, 530, '702,530 692,526 692,534'],
 [371, 857, 442, 857, '450,857 440,853 440,861']].forEach(([x1, y1, x2, y2, pts]) => {
  const l = document.createElementNS(svgNS, 'line');
  l.setAttribute('x1', x1); l.setAttribute('y1', y1); l.setAttribute('x2', x2); l.setAttribute('y2', y2);
  l.setAttribute('stroke', '#000'); l.setAttribute('stroke-width', 1.6);
  svg.appendChild(l);
  const p = document.createElementNS(svgNS, 'polygon');
  p.setAttribute('points', pts); p.setAttribute('fill', '#000');
  svg.appendChild(p);
});
fig.appendChild(svg);
</script>
</body>
</html>
